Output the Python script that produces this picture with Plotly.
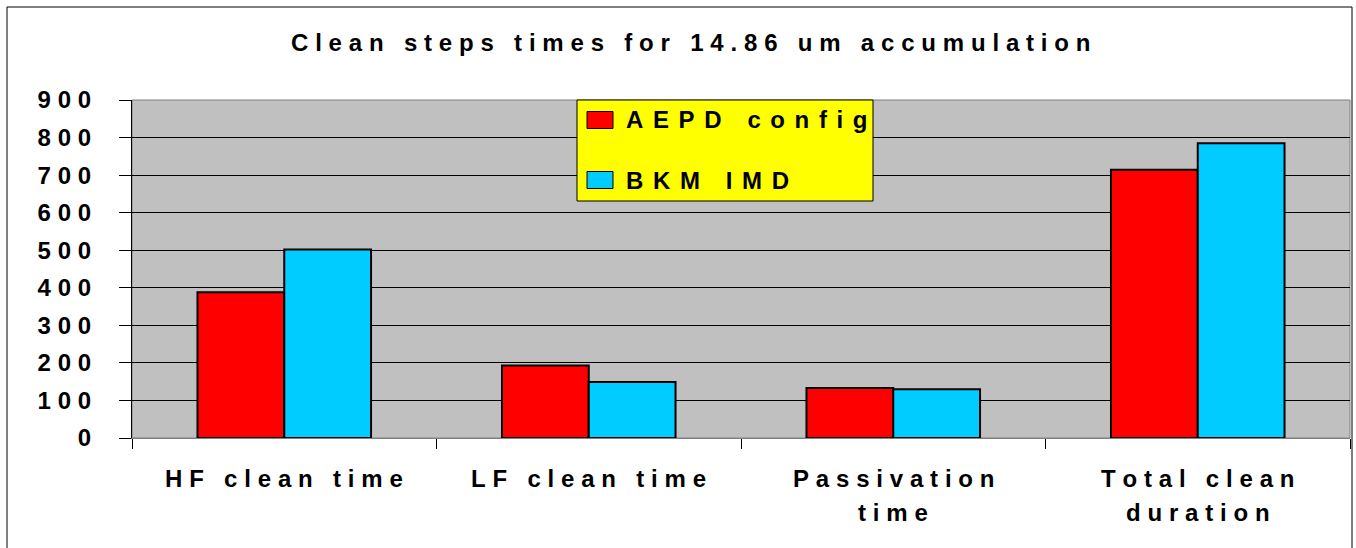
import plotly.graph_objects as go

# ---- data -------------------------------------------------------------
categories = ["HF clean time", "LF clean time", "Passivation time", "Total clean duration"]
category_lines = [["HF clean time"], ["LF clean time"], ["Passivation", "time"], ["Total clean", "duration"]]
series_names = ["AEPD config", "BKM IMD"]
aepd_values = [388, 193, 133, 714]
bkm_values = [502, 149, 130, 785]
y_ticks = [0, 100, 200, 300, 400, 500, 600, 700, 800, 900]
title_text = "Clean steps times for 14.86 um accumulation"

# ---- styling ----------------------------------------------------------
FONT = "Liberation Sans, Arial, sans-serif"
FS = 24
RED = "#FF0000"
CYAN = "#00CCFF"
W, H = 1356, 548
PL, PR, PT, PB = 132, 1350, 100, 438   # plot area in pixels


def spaced(s, gap="\u2009\u200a"):
    """Wide letter spacing, as in the exported chart text."""
    return gap.join("\u00a0" if c == " " else c for c in s)


def px(x):
    return (x - PL) / (PR - PL)


def py(y):
    return (PB - y) / (PB - PT)


fig = go.Figure()
for name, vals, col in [(series_names[0], aepd_values, RED), (series_names[1], bkm_values, CYAN)]:
    fig.add_trace(go.Bar(
        x=categories, y=vals, name=name,
        marker=dict(color=col, line=dict(color="black", width=2)),
        showlegend=False,
    ))

annotations = [
    dict(text=spaced(title_text), xref="paper", yref="paper", x=px(690), y=py(42),
         xanchor="center", yanchor="middle", showarrow=False,
         font=dict(family=FONT, size=FS, color="black", weight="bold")),
]
for cat, lines in zip(categories, category_lines):
    for i, line in enumerate(lines):
        annotations.append(dict(
            text=spaced(line), xref="x", yref="paper", x=cat, y=py(478 + 34 * i),
            xanchor="center", yanchor="middle", showarrow=False,
            font=dict(family=FONT, size=FS, color="black", weight="bold")))

# legend box
shapes = [
    dict(type="rect", xref="paper", yref="paper", x0=0, x1=1, y0=0, y1=1,
         line=dict(color="#808080", width=1), layer="below"),
    dict(type="rect", xref="paper", yref="paper", x0=px(7), x1=px(1352), y0=py(7), y1=py(560),
         line=dict(color="black", width=1)),
    dict(type="rect", xref="paper", yref="paper", x0=px(577), x1=px(873), y0=py(100), y1=py(201),
         fillcolor="#FFFF00", line=dict(color="black", width=1)),
]
for name, col, yc in [(series_names[0], RED, 120), (series_names[1], CYAN, 180)]:
    shapes.append(dict(type="rect", xref="paper", yref="paper", x0=px(587), x1=px(613),
                       y0=py(yc - 8.5), y1=py(yc + 8.5), fillcolor=col,
                       line=dict(color="black", width=1)))
    annotations.append(dict(text=spaced(name, "\u2009\u2009"), xref="paper", yref="paper",
                            x=px(624), y=py(yc), xanchor="left", yanchor="middle",
                            showarrow=False,
                            font=dict(family=FONT, size=FS, color="black", weight="bold")))

fig.update_layout(
    width=W, height=H,
    margin=dict(l=PL, r=W - PR, t=PT, b=H - PB, autoexpand=False),
    paper_bgcolor="white", plot_bgcolor="#C0C0C0",
    barmode="group", bargap=0.43, bargroupgap=0,
    annotations=annotations, shapes=shapes,
    font=dict(family=FONT, size=FS, color="black"),
)
fig.update_xaxes(
    type="category", showline=True, linecolor="#808080", linewidth=1,
    ticks="outside", tickson="boundaries", ticklen=10, tickcolor="black",
    showticklabels=False, showgrid=False,
)
fig.update_yaxes(
    range=[0, 900], tickvals=y_ticks, ticktext=[spaced(str(v)) for v in y_ticks],
    showgrid=True, gridcolor="black", gridwidth=1,
    showline=True, linecolor="black", linewidth=1,
    ticks="outside", ticklen=12, tickcolor="black",
    ticklabelstandoff=23,
    tickfont=dict(family=FONT, size=FS, color="black", weight="bold"),
    zeroline=False,
)

fig.write_html("out.html")
